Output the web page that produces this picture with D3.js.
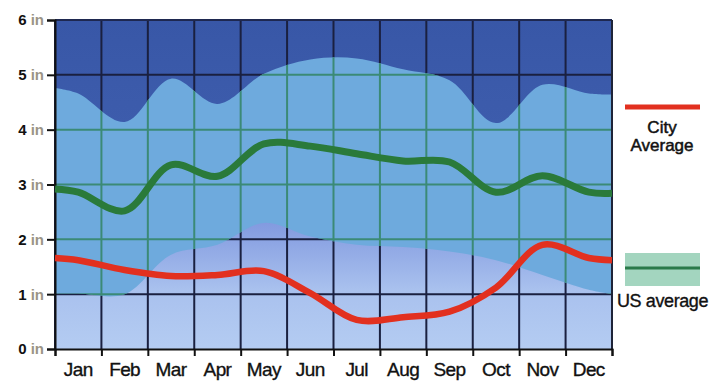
<!DOCTYPE html>
<html><head><meta charset="utf-8">
<script src="https://cdn.jsdelivr.net/npm/d3@7/dist/d3.min.js"></script>
<style>html,body{margin:0;padding:0;background:#fff;}svg{display:block;}</style>
</head><body>
<script>
// ---- data ----
const months = ["Jan","Feb","Mar","Apr","May","Jun","Jul","Aug","Sep","Oct","Nov","Dec"];
const cityAvg = [1.62, 1.44, 1.33, 1.35, 1.42, 1.02, 0.53, 0.58, 0.68, 1.12, 1.9, 1.66];
const cityEdges = [1.66, 1.62];
const usAvg = [2.86, 2.52, 3.36, 3.15, 3.74, 3.7, 3.56, 3.43, 3.41, 2.86, 3.16, 2.86];
const usEdges = [2.92, 2.84];
const usUpper = [4.66, 4.14, 4.93, 4.47, 5.02, 5.28, 5.3, 5.1, 4.9, 4.12, 4.82, 4.66];
const usUpperEdges = [4.76, 4.64];
const usLower = [1.01, 1.0, 1.72, 1.9, 2.3, 2.05, 1.9, 1.86, 1.78, 1.62, 1.35, 1.08];
const usLowerEdges = [1.01, 1.0];
const yTicks = [0,1,2,3,4,5,6];
const yTickLabels = ["0","1","2","3","4","5","6"];
const legendCity = ["City","Average"];
const legendUS = "US average";

(function(){
const W = 719, H = 386;
const svg = d3.select("body").append("svg").attr("width", W).attr("height", H);

const pL = 55, pR = 612, pT = 20, pB = 349;
const x = d3.scaleLinear().domain([-0.5, 11.5]).range([pL, pR]);
const y = d3.scaleLinear().domain([0, 6]).range([pB, pT]);
const curve = d3.curveCatmullRom.alpha(0.5);

function withEdges(vals, edges){
  const pts = [[-0.5, edges[0]]];
  vals.forEach((v,i)=>pts.push([i, v]));
  pts.push([11.5, edges[1]]);
  return pts;
}

const defs = svg.append("defs");
const grad = defs.append("linearGradient").attr("id","bg").attr("x1",0).attr("y1",0).attr("x2",0).attr("y2",1);
[[0,"#3857a7"],[0.32,"#3d5cac"],[0.61,"#8199df"],[0.82,"#a9c1ee"],[1,"#b4ccf2"]].forEach(s=>
  grad.append("stop").attr("offset", s[0]).attr("stop-color", s[1]));

svg.append("rect").attr("x", pL).attr("y", pT).attr("width", pR-pL).attr("height", pB-pT).attr("fill","url(#bg)");

const upperPts = withEdges(usUpper, usUpperEdges);
const lowerPts = withEdges(usLower, usLowerEdges);
const band = upperPts.map((p,i)=>({i:p[0], hi:p[1], lo:lowerPts[i][1]}));
const area = d3.area().x(d=>x(d.i)).y0(d=>y(d.lo)).y1(d=>y(d.hi)).curve(curve);

const vLines = d3.range(0, 13).map(k=>k-0.5);
const hLines = [1,2,3,4,5];

function drawGrid(g, color){
  g.selectAll("line.v").data(vLines).join("line").attr("class","v")
    .attr("x1", d=>x(d)).attr("x2", d=>x(d)).attr("y1", pT).attr("y2", pB)
    .attr("stroke", color).attr("stroke-width", 2);
  g.selectAll("line.h").data(hLines).join("line").attr("class","h")
    .attr("x1", pL).attr("x2", pR).attr("y1", d=>y(d)).attr("y2", d=>y(d))
    .attr("stroke", color).attr("stroke-width", 2);
}

const gDark = svg.append("g");
drawGrid(gDark, "#1a2040");
defs.append("clipPath").attr("id","bandClip").append("path").attr("d", area(band));

svg.append("path").attr("d", area(band)).attr("fill", "#6eaadd");
const gGreen = svg.append("g").attr("clip-path","url(#bandClip)");
drawGrid(gGreen, "#3b8a76");

svg.append("line").attr("x1", pL).attr("x2", pR).attr("y1", pT).attr("y2", pT).attr("stroke","#1e2850").attr("stroke-width",2);
svg.append("line").attr("x1", pR).attr("x2", pR).attr("y1", pT).attr("y2", pB).attr("stroke","#1e2438").attr("stroke-width",2);

const yAxis = d3.axisLeft(y).tickValues(yTicks).tickSize(8).tickFormat(()=> "");
const gy = svg.append("g").attr("transform", `translate(${pL},0)`).call(yAxis);
gy.select(".domain").attr("stroke","#111").attr("stroke-width",2);
gy.selectAll(".tick line").attr("stroke","#111").attr("stroke-width",2);

const xAxis = d3.axisBottom(x).tickValues(vLines).tickSize(7).tickFormat(()=> "");
const gx = svg.append("g").attr("transform", `translate(0,${pB})`).call(xAxis);
gx.select(".domain").attr("stroke","#111").attr("stroke-width",2);
gx.selectAll(".tick line").attr("stroke","#111").attr("stroke-width",2);

const yl = svg.append("g").selectAll("text").data(yTicks).join("text")
  .attr("x", 44).attr("y", d=>y(d)).attr("dy","0.36em").attr("text-anchor","end")
  .attr("font-family","Liberation Sans, Arial, sans-serif").attr("font-size", 15);
yl.append("tspan").attr("font-weight","bold").attr("fill","#111").text((d,i)=>yTickLabels[i]);
yl.append("tspan").attr("fill","#9a9486").attr("font-weight","bold").text(" in");

svg.append("g").selectAll("text").data(months).join("text")
  .attr("x", (d,i)=>x(i)).attr("y", 376).attr("text-anchor","middle")
  .attr("font-family","Liberation Sans, Arial, sans-serif").attr("font-size", 19)
  .attr("letter-spacing", -0.6)
  .attr("fill","#111").attr("stroke","#111").attr("stroke-width",0.35).text(d=>d);

const line = d3.line().x(d=>x(d[0])).y(d=>y(d[1])).curve(curve);
svg.append("path").attr("d", line(withEdges(usAvg, usEdges))).attr("fill","none")
  .attr("stroke","#2a7a3a").attr("stroke-width",7).attr("stroke-linecap","butt");
svg.append("path").attr("d", line(withEdges(cityAvg, cityEdges))).attr("fill","none")
  .attr("stroke","#e2301f").attr("stroke-width",6.5).attr("stroke-linecap","butt");

svg.append("line").attr("x1",625).attr("x2",700).attr("y1",107).attr("y2",107).attr("stroke","#e2301f").attr("stroke-width",5);
svg.append("g").selectAll("text").data(legendCity).join("text")
  .attr("x", 662).attr("y", (d,i)=>133 + i*18).attr("text-anchor","middle")
  .attr("font-family","Liberation Sans, Arial, sans-serif").attr("font-size", 17)
  .attr("fill","#111").attr("stroke","#111").attr("stroke-width",0.5).text(d=>d);
svg.append("rect").attr("x",625).attr("y",253).attr("width",75).attr("height",33).attr("fill","#a3d5bf");
svg.append("line").attr("x1",625).attr("x2",700).attr("y1",268).attr("y2",268).attr("stroke","#2a7a4a").attr("stroke-width",3);
svg.append("text").attr("x", 617).attr("y", 307)
  .attr("font-family","Liberation Sans, Arial, sans-serif").attr("font-size", 18)
  .attr("letter-spacing", -0.4)
  .attr("fill","#111").attr("stroke","#111").attr("stroke-width",0.35).text(legendUS);
})();
</script>
</body></html>
